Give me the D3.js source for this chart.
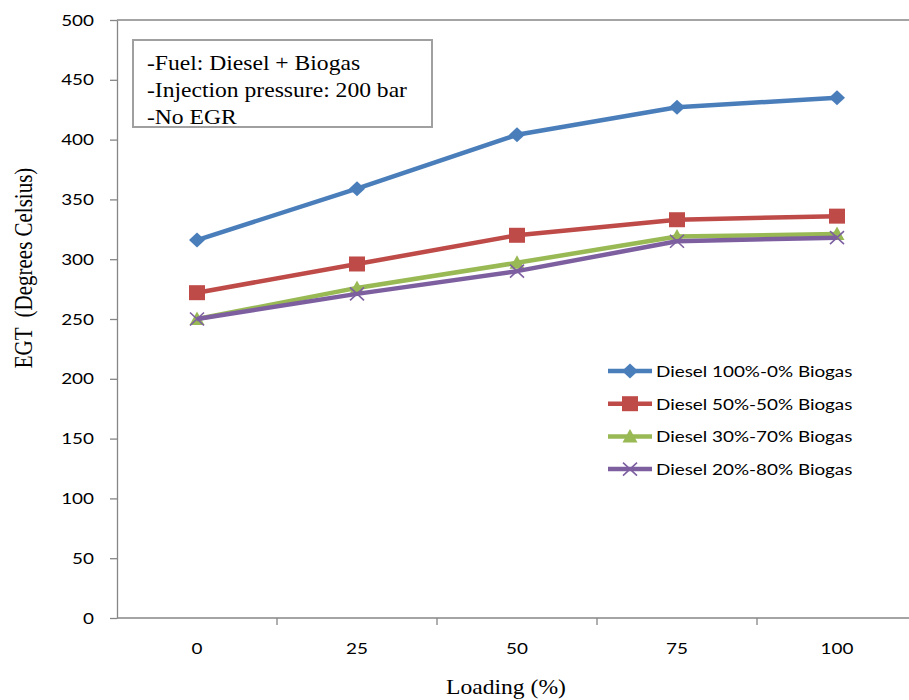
<!DOCTYPE html>
<html>
<head>
<meta charset="utf-8">
<script src="https://cdn.jsdelivr.net/npm/d3@7"></script>
<style>
  html, body { margin: 0; padding: 0; background: #fff; }
  svg { display: block; }
</style>
</head>
<body>
<svg id="chart" width="909" height="700"></svg>
<script>
// Exhaust gas temperature vs. engine loading, diesel/biogas dual-fuel blends
const loading = ["0", "25", "50", "75", "100"];
const diesel100 = [316, 359, 404, 427, 435];
const diesel50 = [272, 296, 320, 333, 336];
const diesel30 = [250, 276, 297, 319, 321];
const diesel20 = [250, 271, 290, 315, 318];
const seriesNames = [
  "Diesel 100%-0% Biogas",
  "Diesel 50%-50% Biogas",
  "Diesel 30%-70% Biogas",
  "Diesel 20%-80% Biogas"
];
const yTicks = [0, 50, 100, 150, 200, 250, 300, 350, 400, 450, 500];
const notes = ["-Fuel: Diesel + Biogas", "-Injection pressure: 200 bar", "-No EGR"];

const series = [
  { name: seriesNames[0], values: diesel100, color: "#4A7EBB", marker: "diamond" },
  { name: seriesNames[1], values: diesel50, color: "#BE4B48", marker: "square" },
  { name: seriesNames[2], values: diesel30, color: "#98B954", marker: "triangle" },
  { name: seriesNames[3], values: diesel20, color: "#7D5FA0", marker: "cross" }
];

const svg = d3.select("#chart");
const plotLeft = 117, plotRight = 917, plotTop = 20, plotBottom = 618;
const axisColor = "#868686";
const sansFont = "Lato, 'Liberation Sans', sans-serif";
const serifFont = "'Liberation Serif', 'Times New Roman', serif";
const textStretch = 1.18; // horizontal widening of the lettering

// widen a text element horizontally about its own anchor point
function stretch(sel) {
  sel.each(function () {
    const ax = +this.getAttribute("x") || 0;
    const prev = this.getAttribute("transform") || "";
    this.setAttribute("transform",
      `${prev} translate(${ax},0) scale(${textStretch},1) translate(${-ax},0)`);
  });
}

const x = d3.scaleBand().domain(loading).range([plotLeft, plotRight]).padding(0);
const y = d3.scaleLinear().domain([0, 500]).range([plotBottom, plotTop]);

// top border of plot area
svg.append("line")
  .attr("x1", plotLeft).attr("x2", plotRight)
  .attr("y1", y(500)).attr("y2", y(500))
  .attr("stroke", axisColor).attr("stroke-width", 1.3);

// Y axis
const yAxis = svg.append("g").attr("transform", `translate(${plotLeft},0)`)
  .call(d3.axisLeft(y).tickValues(yTicks).tickSize(7).tickPadding(16).tickSizeOuter(0));
yAxis.select(".domain").attr("stroke", axisColor).attr("stroke-width", 1.3);
yAxis.selectAll(".tick line").attr("stroke", axisColor).attr("stroke-width", 1.3);
yAxis.selectAll(".tick text")
  .attr("fill", "#000").style("font-family", sansFont).style("font-size", "16px")
  .call(stretch);

// X axis: labels centred in bands, tick marks at band edges
const xAxis = svg.append("g").attr("transform", `translate(0,${plotBottom})`)
  .call(d3.axisBottom(x).tickSize(0).tickPadding(25).tickSizeOuter(0));
xAxis.select(".domain").remove();
xAxis.selectAll(".tick text")
  .attr("fill", "#000").style("font-family", sansFont).style("font-size", "16px")
  .call(stretch);
svg.append("line")
  .attr("x1", plotLeft).attr("x2", plotRight)
  .attr("y1", plotBottom).attr("y2", plotBottom)
  .attr("stroke", axisColor).attr("stroke-width", 1.3);
svg.append("g").selectAll("line")
  .data(loading)
  .join("line")
  .attr("x1", d => x(d) + x.bandwidth()).attr("x2", d => x(d) + x.bandwidth())
  .attr("y1", plotBottom).attr("y2", plotBottom + 7)
  .attr("stroke", axisColor).attr("stroke-width", 1.3);

// Axis titles
svg.append("text")
  .attr("x", 506).attr("y", 694)
  .attr("text-anchor", "middle")
  .style("font-family", serifFont).style("font-size", "20px")
  .text("Loading (%)")
  .call(stretch);
svg.append("text")
  .attr("transform", `translate(32,268) scale(${textStretch},1) rotate(-90)`)
  .attr("text-anchor", "middle")
  .style("font-family", serifFont).style("font-size", "21px")
  .style("white-space", "pre")
  .text("EGT  (Degrees Celsius)");

// Marker drawing
function drawMarker(g, type, color, cx, cy) {
  if (type === "diamond") {
    const sx = 8, sy = 7.5;
    g.append("path")
      .attr("d", `M${cx},${cy - sy}L${cx + sx},${cy}L${cx},${cy + sy}L${cx - sx},${cy}Z`)
      .attr("fill", color);
  } else if (type === "square") {
    const sx = 8, sy = 7.5;
    g.append("rect")
      .attr("x", cx - sx).attr("y", cy - sy).attr("width", 2 * sx).attr("height", 2 * sy)
      .attr("fill", color);
  } else if (type === "triangle") {
    const s = 7.5;
    g.append("path")
      .attr("d", `M${cx},${cy - s}L${cx + s},${cy + s * 0.8}L${cx - s},${cy + s * 0.8}Z`)
      .attr("fill", color);
  } else if (type === "cross") {
    const sx = 7, sy = 6.5;
    g.append("path")
      .attr("d", `M${cx - sx},${cy - sy}L${cx + sx},${cy + sy}M${cx - sx},${cy + sy}L${cx + sx},${cy - sy}`)
      .attr("stroke", color).attr("stroke-width", 1.6).attr("fill", "none");
  }
}

// Series lines and markers
const line = d3.line()
  .x((d, i) => x(loading[i]) + x.bandwidth() / 2)
  .y(d => y(d));

series.forEach(s => {
  const g = svg.append("g");
  g.append("path")
    .datum(s.values)
    .attr("d", line)
    .attr("fill", "none")
    .attr("stroke", s.color)
    .attr("stroke-width", 4.5)
    .attr("stroke-linejoin", "round");
  s.values.forEach((v, i) => {
    drawMarker(g, s.marker, s.color, x(loading[i]) + x.bandwidth() / 2, y(v));
  });
});

// Legend
const legend = svg.append("g");
series.forEach((s, i) => {
  const ly = 371 + i * 32.7;
  legend.append("line")
    .attr("x1", 608).attr("x2", 652).attr("y1", ly).attr("y2", ly)
    .attr("stroke", s.color).attr("stroke-width", 4.5);
  drawMarker(legend, s.marker, s.color, 630, ly);
  legend.append("text")
    .attr("x", 656).attr("y", ly + 6)
    .style("font-family", sansFont).style("font-size", "16px")
    .text(s.name)
    .call(stretch);
});

// Test-condition note box
const note = svg.append("g");
note.append("rect")
  .attr("x", 133).attr("y", 40).attr("width", 299).attr("height", 87)
  .attr("fill", "#fff").attr("stroke", "#a0a0a0").attr("stroke-width", 2);
notes.forEach((t, i) => {
  note.append("text")
    .attr("x", 147).attr("y", 70 + i * 27)
    .style("font-family", serifFont).style("font-size", "20px")
    .text(t)
    .call(stretch);
});
</script>
</body>
</html>
